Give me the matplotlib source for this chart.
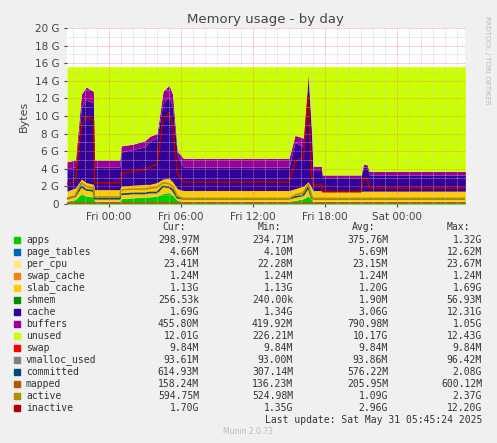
import matplotlib
matplotlib.use("Agg")
import matplotlib.pyplot as plt
import numpy as np
from matplotlib.ticker import MultipleLocator, FuncFormatter

# hours relative to Fri 00:00
hours = [-3.5, -2.8, -2.3, -1.9, -1.3, -1.2, 0.9, 1.0, 2.0, 3.0, 3.4, 4.0, 4.5, 5.0, 5.3,
         5.7, 6.2, 15.0, 15.5, 16.2, 16.6, 16.9, 17.0, 17.7, 17.8, 21.0, 21.2, 21.5, 21.7, 29.7]
total_mem = 15.6  # G
cache_top = [4.0, 4.2, 11.0, 11.8, 11.5, 4.2, 4.2, 5.9, 6.2, 6.5, 7.1, 7.5, 11.5, 12.2, 11.0,
             5.5, 4.2, 4.2, 7.0, 6.5, 14.5, 7.5, 3.8, 3.8, 3.0, 3.0, 4.2, 4.2, 3.3, 3.3]
buffers_top = [4.8, 5.0, 12.5, 13.3, 12.8, 5.0, 5.0, 6.6, 6.8, 7.2, 7.7, 8.0, 12.8, 13.5, 12.5,
               6.0, 5.2, 5.2, 7.8, 7.5, 14.9, 8.0, 4.3, 4.3, 3.3, 3.3, 4.5, 4.5, 3.7, 3.7]
apps = [0.3, 0.5, 1.2, 0.9, 0.8, 0.3, 0.3, 0.6, 0.7, 0.8, 0.8, 0.9, 1.2, 1.3, 1.0,
        0.4, 0.3, 0.3, 0.4, 0.6, 0.9, 0.5, 0.3, 0.3, 0.3, 0.3, 0.3, 0.3, 0.3, 0.3]
slab_cache = [1.13, 1.3, 1.6, 1.5, 1.4, 1.3, 1.3, 1.4, 1.4, 1.4, 1.4, 1.5, 1.6, 1.6, 1.5,
              1.3, 1.2, 1.2, 1.3, 1.4, 1.6, 1.3, 1.2, 1.2, 1.13, 1.13, 1.13, 1.13, 1.13, 1.13]
inactive = [2.3, 2.6, 9.0, 9.9, 9.5, 2.4, 2.4, 3.5, 3.7, 3.9, 4.2, 4.5, 9.5, 10.3, 9.0,
            3.5, 2.5, 2.5, 4.8, 5.3, 12.2, 3.0, 2.2, 2.2, 1.4, 1.4, 2.9, 2.9, 1.8, 1.8]
active = [0.6, 1.0, 2.4, 2.0, 1.8, 0.8, 0.8, 1.6, 1.7, 1.7, 1.8, 1.9, 2.4, 2.3, 2.0,
          0.9, 0.6, 0.6, 1.0, 1.3, 2.2, 0.9, 0.6, 0.6, 0.6, 0.6, 0.6, 0.6, 0.6, 0.6]
committed = [0.6, 0.9, 2.0, 1.6, 1.5, 0.6, 0.6, 1.1, 1.2, 1.2, 1.3, 1.3, 2.0, 1.9, 1.6,
             0.7, 0.6, 0.6, 0.8, 1.0, 1.9, 0.7, 0.6, 0.6, 0.6, 0.6, 0.6, 0.6, 0.6, 0.6]
mapped_g = 0.16
vmalloc_g = 0.094
small_g = [0.005, 0.023, 0.001]  # page_tables, per_cpu, swap_cache
swap_g = 0.01

names = ["apps", "page_tables", "per_cpu", "swap_cache", "slab_cache", "shmem", "cache",
         "buffers", "unused", "swap", "vmalloc_used", "committed", "mapped", "active", "inactive"]
colors = ["#00CC00", "#0066B3", "#FFE680", "#FF8000", "#FFCC00", "#008F00", "#330099",
          "#990099", "#CCFF00", "#FF0000", "#808080", "#00487D", "#B35A00", "#B38F00", "#B30000"]
cur = ["298.97M", "4.66M", "23.41M", "1.24M", "1.13G", "256.53k", "1.69G", "455.80M",
       "12.01G", "9.84M", "93.61M", "614.93M", "158.24M", "594.75M", "1.70G"]
mins = ["234.71M", "4.10M", "22.28M", "1.24M", "1.13G", "240.00k", "1.34G", "419.92M",
        "226.21M", "9.84M", "93.00M", "307.14M", "136.23M", "524.98M", "1.35G"]
avgs = ["375.76M", "5.69M", "23.15M", "1.24M", "1.20G", "1.90M", "3.06G", "790.98M",
        "10.17G", "9.84M", "93.86M", "576.22M", "205.95M", "1.09G", "2.96G"]
maxs = ["1.32G", "12.62M", "23.67M", "1.24M", "1.69G", "56.93M", "12.31G", "1.05G",
        "12.43G", "9.84M", "96.42M", "2.08G", "600.12M", "2.37G", "12.20G"]

W, H = 497, 443
fig = plt.figure(figsize=(W / 100, H / 100), dpi=100, facecolor="#F0F0F0")
ax = fig.add_axes([67 / W, 1 - 204 / H, 398 / W, 176 / H], facecolor="white")

t = np.array(hours)
a = np.array(apps)
s1 = a + small_g[0]
s2 = s1 + small_g[1]
s3 = s2 + small_g[2]
s4 = s3 + np.array(slab_cache)
s5 = s4 + 0.001
s6 = np.array(cache_top)
s7 = np.array(buffers_top)
s8 = np.full_like(t, total_mem)
layers = [np.zeros_like(t), a, s1, s2, s3, s4, s5, s6, s7, s8, s8 + swap_g]
for i in range(10):
    ax.fill_between(t, layers[i], layers[i + 1], color=colors[i], lw=0)
ax.plot(t, np.full_like(t, vmalloc_g), color=colors[10], lw=1)
ax.plot(t, committed, color=colors[11], lw=1.2)
ax.plot(t, np.full_like(t, mapped_g), color=colors[12], lw=1.2)
ax.plot(t, active, color=colors[13], lw=1.2)
ax.plot(t, inactive, color=colors[14], lw=1.2)

ax.set_xlim(-3.5, 29.67)
ax.set_ylim(0, 20)
ax.xaxis.set_major_locator(MultipleLocator(6))
ax.xaxis.set_minor_locator(MultipleLocator(1))
ax.yaxis.set_major_locator(MultipleLocator(2))
ax.yaxis.set_minor_locator(MultipleLocator(1))
days = {0: "Fri", 1: "Sat"}
ax.xaxis.set_major_formatter(FuncFormatter(
    lambda v, p: f"{days.get(int(v // 24), '')} {int(v % 24):02d}:00"))
ax.yaxis.set_major_formatter(FuncFormatter(lambda v, p: f"{int(v)} G" if v else "0"))
ax.grid(which="minor", color="#C8C8C8", ls=(0, (1, 1)), lw=0.6, alpha=0.8)
ax.grid(which="major", color="#E88080", ls=(0, (1, 1)), lw=0.6, alpha=0.8)
ax.set_axisbelow(False)
for sp in ax.spines.values():
    sp.set_visible(False)
ax.tick_params(labelsize=7.5, colors="#444444", length=2)
ax.tick_params(which="minor", length=0)
ax.set_ylabel("Bytes", fontsize=8, color="#444444")

fig.text(265 / W, 1 - 19 / H, "Memory usage - by day", ha="center", va="center",
         fontsize=9.5, color="#444444")
fig.text(487 / W, 1 - 60 / H, "RRDTOOL / TOBI OETIKER", rotation=270, ha="center",
         va="center", fontsize=5, color="#BBBBBB")

mono = "DejaVu Sans Mono"
fs = 7
hy = 227
for x, lab in [(186, "Cur:"), (281, "Min:"), (375, "Avg:"), (470, "Max:")]:
    fig.text(x / W, 1 - hy / H, lab, ha="right", va="center", family=mono, fontsize=fs, color="#333333")
for i, n in enumerate(names):
    y = 1 - (240 + 12 * i) / H
    fig.patches.append(plt.Rectangle((14 / W, y - 3 / H), 6 / W, 6 / H, color=colors[i],
                                     transform=fig.transFigure, figure=fig))
    fig.text(26 / W, y, n, ha="left", va="center", family=mono, fontsize=fs, color="#333333")
    for x, v in [(199, cur[i]), (293, mins[i]), (388, avgs[i]), (482, maxs[i])]:
        fig.text(x / W, y, v, ha="right", va="center", family=mono, fontsize=fs, color="#333333")
fig.text(482 / W, 1 - 420 / H, "Last update: Sat May 31 05:45:24 2025", ha="right",
         va="center", family=mono, fontsize=fs, color="#333333")
fig.text(248 / W, 1 - 432 / H, "Munin 2.0.73", ha="center", va="center", fontsize=5.5,
         color="#BBBBBB")

fig.savefig("out.png", dpi=100, facecolor=fig.get_facecolor())
